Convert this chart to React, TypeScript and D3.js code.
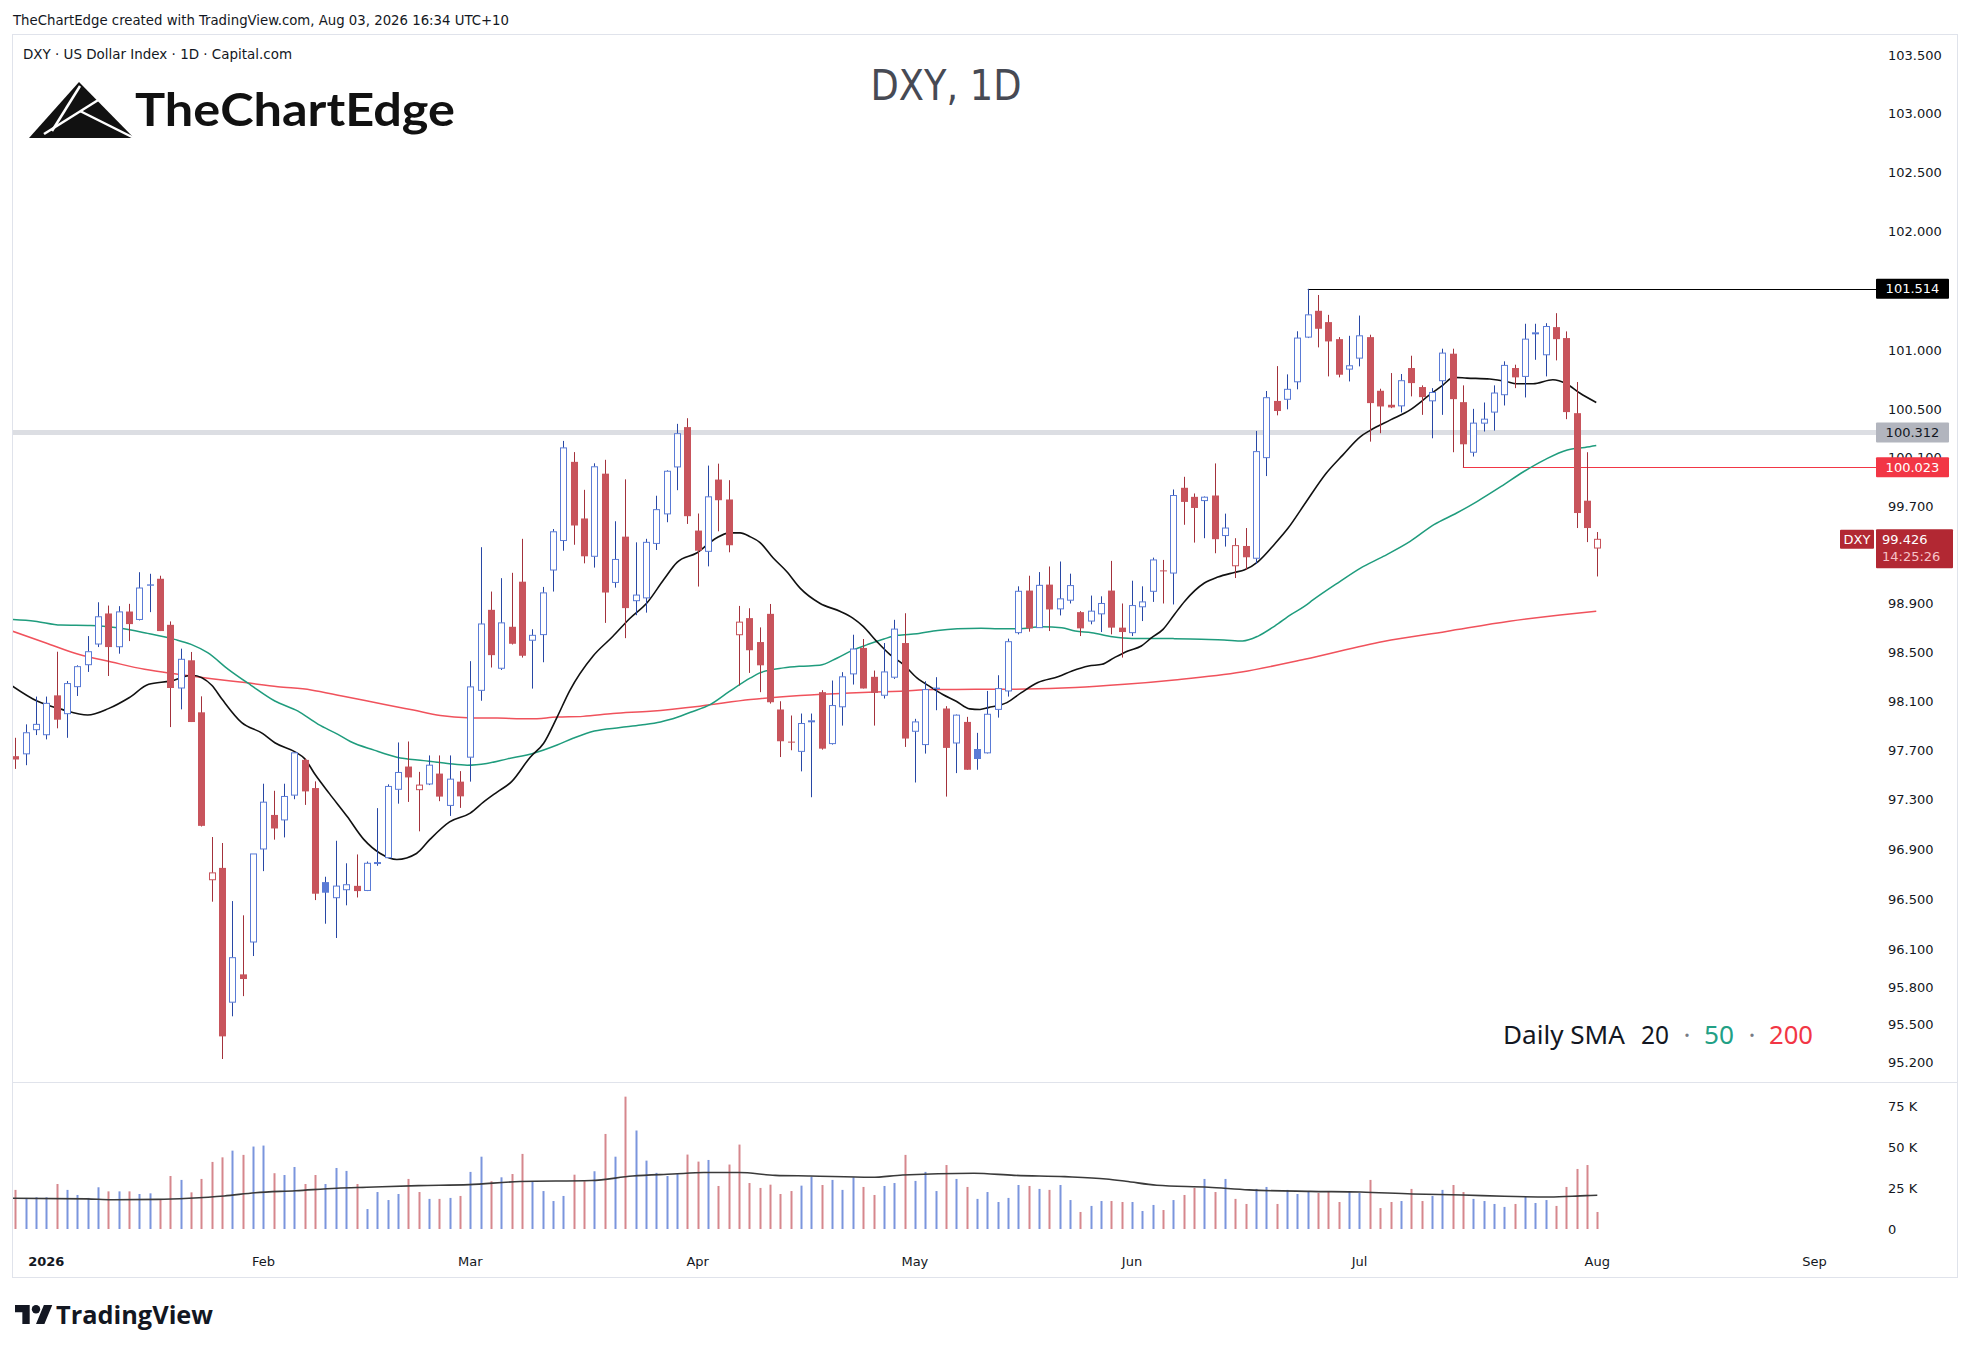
import * as d3 from 'd3'

// DXY daily bars, Dec 29 2025 .. Aug 03 2026 (prices)
const OPEN = [
  97.653, 97.672, 97.868, 97.827, 98.147, 97.998, 98.218, 98.397, 98.566, 98.816,
  98.544, 98.832, 98.767, 99.055, 99.101, 98.723, 98.207, 98.433, 98.009, 96.657,
  96.752, 95.68, 95.901, 96.159, 96.904, 97.178, 97.138, 97.338, 97.623, 97.395,
  96.638, 96.513, 96.577, 96.608, 96.571, 96.789, 96.834, 97.385, 97.569, 97.382,
  97.428, 97.512, 97.255, 97.447, 97.645, 98.188, 98.846, 98.368, 98.707, 99.077,
  98.597, 98.643, 99.173, 99.416, 100.067, 99.598, 99.286, 99.969, 99.071, 99.448,
  98.921, 98.944, 99.392, 99.636, 100.025, 100.356, 99.498, 99.327, 99.92, 99.755,
  98.642, 98.778, 98.582, 98.813, 98.032, 97.771, 97.692, 97.934, 98.173, 97.755,
  98.054, 98.322, 98.534, 98.298, 98.148, 98.295, 98.574, 97.855, 97.747, 98.21,
  98.04, 97.76, 97.931, 97.711, 97.68, 98.033, 98.183, 98.659, 99.004, 98.7,
  99.053, 98.854, 98.925, 98.827, 98.754, 98.813, 99.004, 98.7, 98.659, 98.871,
  98.998, 99.17, 99.148, 99.852, 99.777, 99.746, 99.788, 99.457, 99.208, 99.371,
  99.27, 100.102, 100.574, 100.588, 100.734, 101.108, 101.329, 101.234, 101.091, 100.84,
  100.932, 101.108, 100.659, 100.542, 100.533, 100.849, 100.69, 100.575, 100.743, 100.969,
  100.564, 100.147, 100.389, 100.481, 100.626, 100.849, 100.779, 101.139, 100.96, 101.192,
  101.1, 100.472, 99.745, 99.354,
]
const HIGH = [
  97.802, 97.911, 98.137, 98.137, 98.503, 98.264, 98.392, 98.631, 98.908, 98.881,
  98.876, 98.895, 99.155, 99.142, 99.126, 98.751, 98.528, 98.501, 98.139, 97.0,
  96.952, 96.486, 96.372, 96.864, 97.43, 97.373, 97.43, 97.686, 97.634, 97.449,
  96.681, 96.97, 96.789, 96.86, 96.803, 97.233, 97.425, 97.764, 97.772, 97.526,
  97.659, 97.659, 97.659, 97.532, 98.426, 99.361, 98.996, 99.106, 99.15, 99.43,
  98.687, 99.034, 99.511, 100.241, 100.148, 99.835, 100.055, 100.084, 99.575, 99.922,
  99.401, 99.43, 99.786, 99.997, 100.383, 100.43, 99.639, 100.036, 100.052, 99.915,
  98.878, 98.859, 98.702, 98.894, 98.099, 97.983, 97.999, 97.999, 98.189, 98.268,
  98.336, 98.642, 98.607, 98.349, 98.574, 98.764, 98.818, 97.956, 98.262, 98.295,
  98.059, 97.991, 97.972, 97.842, 98.183, 98.311, 98.61, 99.039, 99.126, 99.156,
  99.202, 99.243, 99.143, 98.835, 98.963, 98.957, 99.248, 98.898, 99.085, 99.039,
  99.275, 99.256, 99.838, 99.943, 99.805, 99.78, 100.054, 99.638, 99.435, 99.519,
  100.324, 100.657, 100.865, 100.796, 101.157, 101.514, 101.462, 101.295, 101.108, 101.119,
  101.289, 101.128, 100.676, 100.807, 100.799, 100.952, 100.704, 100.681, 101.011, 101.011,
  100.704, 100.508, 100.561, 100.704, 100.905, 100.877, 101.22, 101.22, 101.225, 101.309,
  101.156, 100.732, 100.147, 99.486,
]
const LOW = [
  97.55, 97.58, 97.824, 97.789, 97.879, 97.802, 98.142, 98.338, 98.541, 98.305,
  98.487, 98.59, 98.759, 98.827, 98.672, 97.889, 98.033, 97.93, 97.085, 96.481,
  95.23, 95.568, 95.728, 96.047, 96.726, 96.979, 96.997, 97.305, 97.259, 96.494,
  96.305, 96.191, 96.452, 96.515, 96.566, 96.769, 96.834, 97.269, 97.283, 97.046,
  97.419, 97.289, 97.17, 97.235, 97.447, 98.103, 98.374, 98.354, 98.562, 98.455,
  98.202, 98.417, 98.996, 99.332, 99.381, 99.228, 99.193, 98.739, 99.028, 98.614,
  98.802, 98.823, 99.338, 99.567, 99.832, 99.553, 99.037, 99.203, 99.492, 99.319,
  98.227, 98.33, 98.173, 98.08, 97.646, 97.701, 97.53, 97.321, 97.706, 97.747,
  97.901, 98.235, 98.203, 97.901, 98.121, 98.281, 97.728, 97.44, 97.674, 98.026,
  97.326, 97.516, 97.543, 97.543, 97.675, 97.966, 98.137, 98.645, 98.667, 98.7,
  98.672, 98.8, 98.898, 98.631, 98.727, 98.664, 98.645, 98.455, 98.631, 98.754,
  98.911, 98.898, 98.89, 99.546, 99.399, 99.435, 99.311, 99.366, 99.107, 99.175,
  99.224, 99.949, 100.454, 100.504, 100.671, 101.1, 101.022, 100.779, 100.771, 100.737,
  100.863, 100.235, 100.305, 100.514, 100.478, 100.612, 100.458, 100.263, 100.458, 100.147,
  100.023, 100.111, 100.319, 100.327, 100.536, 100.681, 100.603, 100.918, 100.779, 100.913,
  100.422, 99.519, 99.403, 99.12,
]
const CLOSE = [
  97.626, 97.843, 97.911, 98.082, 97.949, 98.243, 98.381, 98.503, 98.789, 98.541,
  98.829, 98.729, 99.025, 99.044, 98.672, 98.207, 98.441, 97.93, 97.09, 96.712,
  95.409, 96.034, 95.864, 96.864, 97.281, 97.069, 97.327, 97.68, 97.368, 96.545,
  96.553, 96.606, 96.617, 96.566, 96.789, 96.795, 97.408, 97.521, 97.481, 97.419,
  97.58, 97.326, 97.467, 97.328, 98.216, 98.73, 98.475, 98.739, 98.568, 98.47,
  98.637, 98.985, 99.488, 100.183, 99.54, 99.286, 100.026, 98.988, 99.26, 98.86,
  98.967, 99.401, 99.671, 99.989, 100.301, 99.617, 99.332, 99.777, 99.749, 99.377,
  98.745, 98.515, 98.392, 98.091, 97.774, 97.766, 97.918, 97.94, 97.714, 98.064,
  98.298, 98.525, 98.203, 98.167, 98.338, 98.688, 97.796, 97.931, 98.194, 98.199,
  97.72, 97.986, 97.543, 97.63, 97.993, 98.202, 98.585, 98.998, 98.694, 99.047,
  98.849, 98.936, 99.045, 98.694, 98.835, 98.898, 98.7, 98.664, 98.881, 98.911,
  99.256, 99.164, 99.788, 99.735, 99.685, 99.774, 99.427, 99.519, 99.374, 99.278,
  100.152, 100.601, 100.49, 100.671, 101.1, 101.295, 101.178, 101.072, 100.793, 100.868,
  101.119, 100.556, 100.528, 100.52, 100.743, 100.723, 100.606, 100.645, 100.974, 100.589,
  100.213, 100.389, 100.422, 100.64, 100.871, 100.771, 101.091, 101.144, 101.197, 101.091,
  100.481, 99.643, 99.519, 99.426,
]
const PREV_CLOSE = 97.7 // close of the bar before the first visible one

// volume, thousands
const VOLUME_K = [
  23.9, 19.0, 19.4, 19.4, 27.5, 23.9, 20.8, 19.0, 25.5, 23.0,
  23.0, 23.0, 21.4, 21.8, 17.7, 32.4, 30.0, 22.4, 30.6, 41.0,
  43.8, 47.9, 45.3, 50.4, 51.0, 34.1, 33.0, 37.9, 27.5, 33.0,
  27.5, 37.3, 35.5, 27.5, 12.2, 22.6, 17.7, 21.4, 30.6, 22.6,
  18.4, 18.4, 19.0, 20.2, 34.9, 44.2, 29.2, 31.6, 33.6, 45.9,
  29.0, 23.2, 17.1, 20.2, 33.2, 29.2, 35.3, 58.1, 44.2, 80.9,
  60.2, 41.8, 34.3, 32.4, 33.6, 45.5, 41.2, 42.2, 26.3, 39.4,
  51.6, 28.1, 25.1, 27.1, 21.4, 23.2, 26.5, 32.0, 26.9, 30.0,
  23.9, 31.6, 25.7, 20.8, 26.3, 28.1, 45.3, 29.4, 34.9, 23.2,
  39.1, 30.6, 25.7, 18.4, 22.6, 16.5, 19.0, 26.9, 26.3, 24.5,
  23.9, 26.9, 17.7, 10.4, 14.1, 17.1, 17.1, 16.5, 16.5, 11.0,
  14.7, 11.6, 17.7, 20.8, 25.1, 30.6, 22.6, 30.6, 18.4, 15.3,
  24.5, 25.7, 15.3, 23.9, 21.4, 23.2, 22.0, 22.6, 16.5, 22.6,
  22.0, 30.0, 12.8, 16.5, 17.1, 24.5, 17.1, 20.2, 23.9, 26.9,
  22.6, 18.4, 17.1, 15.3, 13.5, 15.3, 19.6, 15.9, 17.7, 14.1,
  25.7, 36.7, 39.1, 10.4,
]

// moving averages as [bar, value]
const SMA20: [number, number][] = [
  [-0.3, 98.224], [2.1, 98.101], [4.5, 98.033], [7.0, 97.987], [9.0, 98.039], [11.0, 98.128],
  [12.9, 98.237], [15.0, 98.264], [17.1, 98.311], [19.0, 98.229], [20.0, 98.115], [21.9, 97.925],
  [23.9, 97.838], [25.1, 97.762], [27.1, 97.686], [28.0, 97.631], [29.0, 97.504], [30.4, 97.348],
  [32.1, 97.165], [33.7, 96.981], [35.3, 96.868], [36.9, 96.82], [38.8, 96.868], [40.1, 96.981],
  [42.0, 97.122], [44.0, 97.193], [45.3, 97.283], [46.6, 97.363], [48.0, 97.447], [49.8, 97.645],
  [51.1, 97.758], [52.4, 97.97], [53.6, 98.182], [55.9, 98.47], [57.8, 98.629], [59.4, 98.773],
  [61.1, 98.904], [62.7, 99.093], [64.0, 99.236], [65.9, 99.313], [67.8, 99.437], [69.1, 99.479],
  [70.1, 99.479], [71.1, 99.446], [72.0, 99.401], [73.3, 99.272], [74.6, 99.161], [75.9, 99.024],
  [77.8, 98.9], [79.8, 98.832], [81.0, 98.778], [82.0, 98.71], [83.3, 98.588], [84.6, 98.479],
  [85.9, 98.398], [87.2, 98.289], [88.5, 98.216], [89.7, 98.154], [91.0, 98.099], [92.3, 98.037],
  [93.3, 98.032], [94.1, 98.047], [95.9, 98.088], [97.3, 98.169], [98.9, 98.251], [100.9, 98.3],
  [102.2, 98.346], [103.8, 98.387], [105.1, 98.4], [106.3, 98.455], [107.6, 98.509], [108.9, 98.55],
  [109.9, 98.618], [111.0, 98.686], [112.1, 98.808], [113.1, 98.917], [115.0, 99.066], [116.3, 99.115],
  [117.9, 99.153], [118.9, 99.175], [120.2, 99.243], [121.8, 99.388], [123.1, 99.519], [124.8, 99.73],
  [126.8, 99.974], [128.4, 100.125], [130.1, 100.277], [131.0, 100.327], [133.0, 100.416], [134.9, 100.5],
  [136.8, 100.626], [138.1, 100.709], [139.1, 100.771], [140.4, 100.765], [142.6, 100.757], [144.2, 100.737],
  [145.2, 100.718], [146.8, 100.718], [148.7, 100.751], [150.0, 100.718], [151.3, 100.64], [152.9, 100.561],
]
const SMA50: [number, number][] = [
  [-0.3, 98.767], [1.9, 98.753], [4.4, 98.721], [7.3, 98.718], [9.9, 98.699], [12.8, 98.653],
  [15.4, 98.604], [17.0, 98.563], [18.6, 98.495], [20.6, 98.359], [22.8, 98.229], [25.1, 98.101],
  [27.3, 98.02], [29.3, 97.911], [31.2, 97.83], [32.4, 97.772], [34.7, 97.702], [36.9, 97.645],
  [39.5, 97.617], [41.8, 97.594], [43.7, 97.58], [45.6, 97.594], [47.6, 97.631], [50.2, 97.679],
  [52.4, 97.744], [54.0, 97.8], [56.0, 97.857], [58.5, 97.885], [60.5, 97.905], [62.4, 97.93],
  [63.3, 97.95], [65.3, 98.01], [67.2, 98.072], [69.1, 98.181], [71.1, 98.289], [72.0, 98.33],
  [74.3, 98.371], [75.9, 98.384], [77.8, 98.392], [79.5, 98.452], [81.1, 98.52], [82.4, 98.561],
  [84.0, 98.607], [85.3, 98.637], [87.2, 98.65], [89.2, 98.677], [91.1, 98.691], [93.4, 98.696],
  [95.1, 98.691], [97.0, 98.691], [99.3, 98.707], [101.2, 98.699], [102.5, 98.672], [104.1, 98.659],
  [106.1, 98.626], [108.0, 98.612], [110.3, 98.612], [112.1, 98.61], [114.7, 98.604], [116.9, 98.599],
  [118.7, 98.591], [120.2, 98.631], [121.8, 98.713], [123.4, 98.808], [124.7, 98.876], [125.5, 98.927],
  [128.1, 99.078], [130.1, 99.189], [132.3, 99.285], [134.9, 99.409], [137.2, 99.547], [139.4, 99.643],
  [141.4, 99.74], [143.7, 99.863], [145.9, 99.987], [147.9, 100.084], [150.1, 100.166], [151.8, 100.186],
  [152.9, 100.202],
]
const SMA200: [number, number][] = [
  [-0.3, 98.672], [2.9, 98.577], [6.1, 98.482], [9.3, 98.419], [12.5, 98.359], [15.7, 98.319],
  [19.0, 98.283], [22.2, 98.251], [25.4, 98.218], [28.6, 98.191], [31.6, 98.142], [35.6, 98.075],
  [38.5, 98.027], [41.1, 97.984], [43.7, 97.965], [46.6, 97.962], [49.8, 97.956], [52.4, 97.97],
  [54.9, 97.976], [57.8, 97.999], [61.4, 98.018], [66.2, 98.059], [71.1, 98.113], [75.9, 98.146],
  [80.7, 98.167], [85.6, 98.181], [88.8, 98.194], [92.8, 98.196], [97.7, 98.198], [102.5, 98.21],
  [107.3, 98.237], [112.1, 98.273], [118.6, 98.338], [124.7, 98.441], [132.3, 98.587], [138.4, 98.669],
  [144.5, 98.752], [149.4, 98.804], [152.9, 98.835],
]
const VOL_MA_K: [number, number][] = [
  [-0.5, 18.8], [6.9, 18.4], [9.4, 17.9], [13.8, 18.1], [16.8, 18.8], [20.2, 20.2], [23.2, 22.2],
  [27.1, 23.4], [31.1, 24.9], [34.0, 25.5], [39.0, 26.5], [43.9, 27.1], [48.8, 29.0], [55.7, 29.6],
  [59.7, 32.4], [63.6, 33.6], [66.6, 34.5], [70.0, 34.5], [73.5, 32.8], [76.9, 32.4], [82.8, 31.6],
  [85.8, 33.0], [92.7, 34.1], [96.6, 32.8], [101.5, 32.0], [105.5, 30.6], [107.4, 29.2], [110.4, 26.7],
  [115.4, 25.5], [119.3, 23.9], [125.2, 23.0], [130.1, 22.6], [135.1, 21.4], [140.0, 20.8], [144.0, 20.0],
  [148.4, 19.6], [151.9, 20.4], [153.0, 20.6],
]

const MONTH_TICKS = [
  { label: '2026', bar: 3, bold: true },
  { label: 'Feb', bar: 24 },
  { label: 'Mar', bar: 44 },
  { label: 'Apr', bar: 66 },
  { label: 'May', bar: 87 },
  { label: 'Jun', bar: 108 },
  { label: 'Jul', bar: 130 },
  { label: 'Aug', bar: 153 },
  { label: 'Sep', bar: 174 },
]
// labels the scale shows (those hidden under the badges are left out)
const PRICE_TICKS = [103.5, 103, 102.5, 102, 101, 100.5, 100.1, 99.7, 98.9, 98.5, 98.1, 97.7, 97.3, 96.9, 96.5, 96.1, 95.8, 95.5, 95.2]
const VOLUME_TICKS = [75, 50, 25, 0]

const HIGH_LEVEL = { price: 101.514, fromBar: 125 }
const ZONE_LEVEL = 100.312
const LOW_LEVEL = { price: 100.023, fromBar: 140 }
const LAST_PRICE = 99.426
const COUNTDOWN = '14:25:26'

const W = 1972
const H = 1353
const FRAME = { left: 12.5, top: 34.5, right: 1957.5, bottom: 1277.5 }
const PLOT_RIGHT = 1876
const PANE_SPLIT = 1082
const AXIS_FONT = "'DejaVu Sans', Verdana, sans-serif"

const BLUE = '#5a7bd6'
const BLUE_WICK = '#2847a5'
const RED = '#c8545c'
const RED_WICK = '#a3313b'

export default function App() {
  const x = d3.scaleLinear().domain([0, 153]).range([15.3, 1597.3])
  const y = d3.scaleLog().domain([95.2, 103.5]).range([1062.8, 55.3])
  const yVol = d3.scaleLinear().domain([0, 25]).range([1229, 1188.1])

  const priceLine = d3
    .line<[number, number]>()
    .x((d) => x(d[0]))
    .y((d) => y(d[1]))
    .curve(d3.curveMonotoneX)
  const volLine = d3
    .line<[number, number]>()
    .x((d) => x(d[0]))
    .y((d) => yVol(d[1]))
    .curve(d3.curveMonotoneX)

  const bars = OPEN.map((o, i) => {
    const c = CLOSE[i]
    const prev = i === 0 ? PREV_CLOSE : CLOSE[i - 1]
    return { i, o, h: HIGH[i], l: LOW[i], c, up: c >= prev, hollow: c > o }
  })

  const badge = (yc: number, label: string, bg: string, fg: string) => (
    <g>
      <rect x={1876} y={yc - 10} width={73} height={20} fill={bg} rx={1} />
      <text x={1912.5} y={yc + 4.5} textAnchor="middle" fontSize={13} fill={fg} fontFamily={AXIS_FONT}>
        {label}
      </text>
    </g>
  )

  return (
    <div style={{ position: 'absolute', left: 0, top: 0 }}>
      <svg width={W} height={H} viewBox={`0 0 ${W} ${H}`} style={{ display: 'block', background: '#fff' }}>
        <defs>
          <clipPath id="pricePane">
            <rect x={13} y={35} width={PLOT_RIGHT - 13} height={PANE_SPLIT - 35} />
          </clipPath>
          <clipPath id="volPane">
            <rect x={13} y={PANE_SPLIT} width={PLOT_RIGHT - 13} height={1243 - PANE_SPLIT} />
          </clipPath>
        </defs>

        {/* header */}
        <text x={13} y={25} fontSize={14} fill="#131722" fontFamily="'DejaVu Sans Condensed', 'DejaVu Sans', sans-serif" textLength={496} lengthAdjust="spacingAndGlyphs">
          TheChartEdge created with TradingView.com, Aug 03, 2026 16:34 UTC+10
        </text>

        {/* frame */}
        <rect x={FRAME.left} y={FRAME.top} width={FRAME.right - FRAME.left} height={FRAME.bottom - FRAME.top} fill="none" stroke="#e0e3eb" />
        <line x1={13} x2={FRAME.right} y1={PANE_SPLIT + 0.5} y2={PANE_SPLIT + 0.5} stroke="#e0e3eb" />

        <text x={23} y={59} fontSize={14} fill="#131722" fontFamily="'DejaVu Sans Condensed', 'DejaVu Sans', sans-serif" textLength={269} lengthAdjust="spacingAndGlyphs">
          DXY · US Dollar Index · 1D · Capital.com
        </text>

        {/* watermark logo */}
        <g>
          <polygon points="29,138 79,82 134,138" fill="#111" />
          <line x1={80} y1={86} x2={52} y2={131} stroke="#fff" strokeWidth={2.5} />
          <line x1={44} y1={134} x2={103} y2={97} stroke="#fff" strokeWidth={2.5} />
          <line x1={80} y1={111} x2={134} y2={138} stroke="#fff" strokeWidth={2.5} />
          <text x={135} y={126} fontSize={46} fontWeight={700} fill="#111" fontFamily="Lato, 'Open Sans', sans-serif" textLength={320} lengthAdjust="spacingAndGlyphs">
            TheChartEdge
          </text>
        </g>

        <text x={946} y={100} textAnchor="middle" fontSize={42} fill="#474a54" fontFamily="'DejaVu Sans Condensed', 'DejaVu Sans', sans-serif" textLength={151} lengthAdjust="spacingAndGlyphs">
          DXY, 1D
        </text>

        {/* price pane */}
        <g clipPath="url(#pricePane)">
          <line x1={13} x2={PLOT_RIGHT} y1={y(ZONE_LEVEL)} y2={y(ZONE_LEVEL)} stroke="#dcdee3" strokeWidth={5} />
          <line x1={x(HIGH_LEVEL.fromBar)} x2={PLOT_RIGHT} y1={Math.round(y(HIGH_LEVEL.price)) + 0.5} y2={Math.round(y(HIGH_LEVEL.price)) + 0.5} stroke="#000" strokeWidth={1.2} />
          <line x1={x(LOW_LEVEL.fromBar)} x2={PLOT_RIGHT} y1={Math.round(y(LOW_LEVEL.price)) + 0.5} y2={Math.round(y(LOW_LEVEL.price)) + 0.5} stroke="#f23645" strokeWidth={1} />

          <path d={priceLine(SMA200) ?? ''} fill="none" stroke="#f0525c" strokeWidth={1.5} />
          <path d={priceLine(SMA50) ?? ''} fill="none" stroke="#1f9c7d" strokeWidth={1.5} />
          <path d={priceLine(SMA20) ?? ''} fill="none" stroke="#111" strokeWidth={1.6} />

          {bars.map((b) => {
            const cx = Math.round(x(b.i)) + 0.5
            const top = y(Math.max(b.o, b.c))
            const bot = y(Math.min(b.o, b.c))
            const col = b.up ? BLUE : RED
            const wick = b.up ? BLUE_WICK : RED_WICK
            const hgt = Math.max(bot - top, 1)
            return (
              <g key={b.i}>
                {b.hollow ? (
                  <>
                    <line x1={cx} x2={cx} y1={y(b.h)} y2={top} stroke={wick} strokeWidth={1} />
                    <line x1={cx} x2={cx} y1={top + hgt} y2={y(b.l)} stroke={wick} strokeWidth={1} />
                    <rect x={cx - 3} y={top} width={6} height={hgt} fill="#fff" stroke={col} strokeWidth={1} />
                  </>
                ) : (
                  <>
                    <line x1={cx} x2={cx} y1={y(b.h)} y2={y(b.l)} stroke={wick} strokeWidth={1} />
                    <rect x={cx - 3.5} y={top} width={7} height={hgt} fill={col} />
                  </>
                )}
              </g>
            )
          })}
        </g>

        {/* legend */}
        <g fontFamily="'Noto Sans', 'Open Sans', sans-serif" fontSize={26}>
          <text x={1503} y={1044} fill="#131722" textLength={122} lengthAdjust="spacingAndGlyphs">Daily SMA</text>
          <text x={1641} y={1044} fill="#131722" textLength={28} lengthAdjust="spacingAndGlyphs">20</text>
          <text x={1687} y={1044} fill="#787b86" textAnchor="middle">·</text>
          <text x={1704} y={1044} fill="#22a085" textLength={30} lengthAdjust="spacingAndGlyphs">50</text>
          <text x={1752} y={1044} fill="#787b86" textAnchor="middle">·</text>
          <text x={1769} y={1044} fill="#f23645" textLength={44} lengthAdjust="spacingAndGlyphs">200</text>
        </g>

        {/* volume pane */}
        <g clipPath="url(#volPane)">
          {bars.map((b) => {
            const cx = Math.round(x(b.i))
            const v = VOLUME_K[b.i]
            return (
              <rect key={b.i} x={cx - 0.5} y={yVol(v)} width={2} height={yVol(0) - yVol(v)} fill={b.up ? '#7b95dd' : '#d6878d'} />
            )
          })}
          <path d={volLine(VOL_MA_K) ?? ''} fill="none" stroke="#3a3a3a" strokeWidth={1.6} />
        </g>

        {/* price scale */}
        <g fontFamily={AXIS_FONT} fontSize={13} fill="#131722">
          {PRICE_TICKS.map((p) => (
            <text key={p} x={1888} y={y(p) + 4.5}>
              {p.toFixed(3)}
            </text>
          ))}
          {VOLUME_TICKS.map((v) => (
            <text key={v} x={1888} y={yVol(v) + 4.5}>
              {v === 0 ? '0' : `${v} K`}
            </text>
          ))}
        </g>

        {badge(y(HIGH_LEVEL.price), HIGH_LEVEL.price.toFixed(3), '#000', '#fff')}
        {badge(y(ZONE_LEVEL), ZONE_LEVEL.toFixed(3), '#b2b5be', '#131722')}
        {badge(y(LOW_LEVEL.price), LOW_LEVEL.price.toFixed(3), '#f23645', '#fff')}

        {/* last price */}
        <g fontFamily={AXIS_FONT} fontSize={13}>
          <rect x={1840} y={y(LAST_PRICE) - 9.5} width={34} height={19} fill="#b22833" rx={1} />
          <text x={1857} y={y(LAST_PRICE) + 4.5} textAnchor="middle" fill="#fff">DXY</text>
          <rect x={1876} y={y(LAST_PRICE) - 10} width={77} height={39} fill="#b22833" rx={1} />
          <text x={1882} y={y(LAST_PRICE) + 4.5} fill="#fff">{LAST_PRICE.toFixed(3)}</text>
          <text x={1882} y={y(LAST_PRICE) + 22} fill="#f6c3c8">{COUNTDOWN}</text>
        </g>

        {/* time scale */}
        <g fontFamily={AXIS_FONT} fontSize={13} fill="#131722">
          {MONTH_TICKS.map((t) => (
            <text key={t.label} x={x(t.bar)} y={1266} textAnchor="middle" fontWeight={t.bold ? 700 : 400}>
              {t.label}
            </text>
          ))}
        </g>

        {/* TradingView footer */}
        <g transform="translate(15,1300.8) scale(1.05)" fill="#131722">
          <path d="M14 22H7V11H0V4h14v18ZM28 22h-8l7.5-18h8L28 22Z" />
          <circle cx={20} cy={8} r={4} />
        </g>
        <text x={56} y={1323.5} fontSize={25} fontWeight={700} fill="#131722" fontFamily="'Open Sans', Lato, sans-serif" textLength={157} lengthAdjust="spacingAndGlyphs">
          TradingView
        </text>
      </svg>
    </div>
  )
}
